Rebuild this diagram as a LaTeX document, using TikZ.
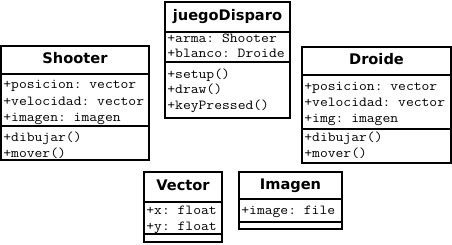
\documentclass[tikz,border=0pt]{standalone}
\usepackage{fontspec}
\setmainfont{DejaVu Sans}
\setmonofont{Latin Modern Mono}[FakeStretch=1.1]
\begin{document}
\begin{tikzpicture}[x=1pt,y=-1pt,line width=1.8pt,line join=miter,
	clsname/.style={font=\bfseries\fontsize{14.6}{15}\selectfont,inner sep=0,text height=11pt,text depth=3pt},
	member/.style={font=\ttfamily\fontsize{13.8}{14}\selectfont,anchor=west,inner sep=0,text height=9pt,text depth=3pt}]
	\useasboundingbox (0,0) rectangle (452,245);
	% juegoDisparo
	\draw (165,2) rectangle (290,118);
	\draw (165,32)--(290,32) (165,62)--(290,62);
	\node[clsname] (juego) at (227.5,17) {juegoDisparo};
	\foreach \t [count=\i] in {{+arma: Shooter},{+blanco: Droide}} \node[member] (juego-a\i) at (166.5,25+15*\i) {\t};
	\foreach \t [count=\i] in {{+setup()},{+draw()},{+keyPressed()}} \node[member] (juego-m\i) at (166.5,60+15.5*\i) {\t};
	% Shooter
	\draw (1,46) rectangle (149,160);
	\draw (1,74)--(149,74) (1,126)--(149,126);
	\node[clsname] (shooter) at (75,60) {Shooter};
	\foreach \t [count=\i] in {{+posicion: vector},{+velocidad: vector},{+imagen: imagen}} \node[member] (shooter-a\i) at (2.5,69.5+16.3*\i) {\t};
	\foreach \t [count=\i] in {{+dibujar()},{+mover()}} \node[member] (shooter-m\i) at (2.5,122.5+16*\i) {\t};
	% Droide
	\draw (302,47) rectangle (451,163);
	\draw (302,75)--(451,75) (302,129)--(451,129);
	\node[clsname] (droide) at (376.5,61) {Droide};
	\foreach \t [count=\i] in {{+posicion: vector},{+velocidad: vector},{+img: imagen}} \node[member] (droide-a\i) at (303.5,71.5+16*\i) {\t};
	\foreach \t [count=\i] in {{+dibujar()},{+mover()}} \node[member] (droide-m\i) at (303.5,123+16*\i) {\t};
	% Vector
	\draw (144,172) rectangle (222,242);
	\draw (144,202)--(222,202) (144,234)--(222,234);
	\node[clsname] (vector) at (183,187) {Vector};
	\foreach \t [count=\i] in {{+x: float},{+y: float}} \node[member] (vector-a\i) at (145.5,195.5+16*\i) {\t};
	% Imagen
	\draw (239,172) rectangle (342,229);
	\draw (239,199)--(342,199) (239,222)--(342,222);
	\node[clsname] (imagen) at (290.5,185.5) {Imagen};
	\node[member] (imagen-a1) at (240.5,211.5) {+image: file};
\end{tikzpicture}
\end{document}
